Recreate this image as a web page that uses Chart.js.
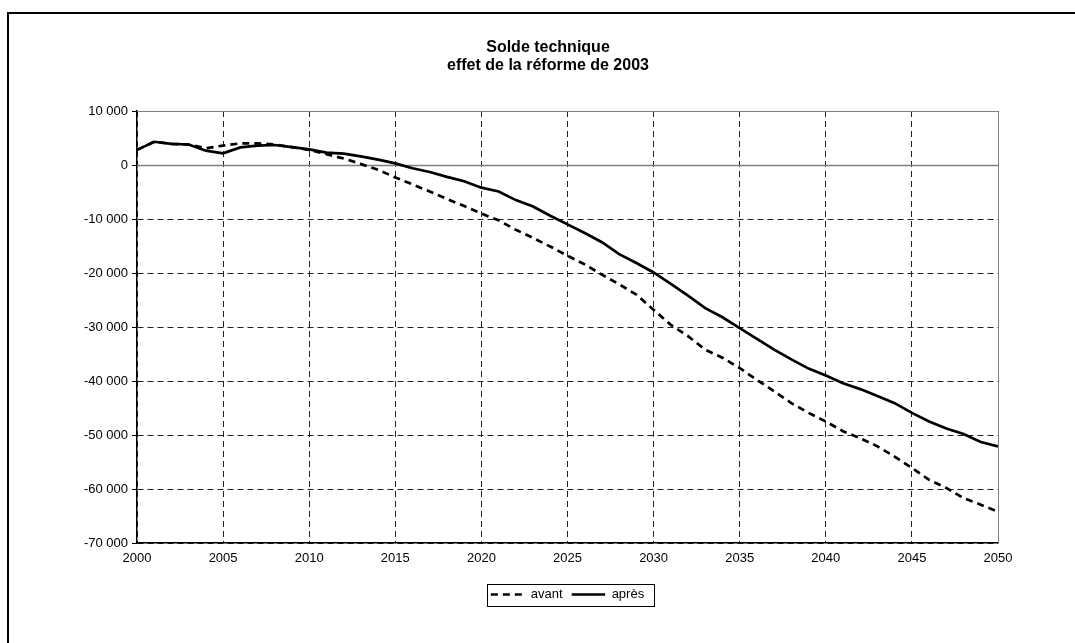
<!DOCTYPE html>
<html>
<head>
<meta charset="utf-8">
<script src="https://cdn.jsdelivr.net/npm/chart.js@4.4.0/dist/chart.umd.min.js"></script>
<style>
  html, body { margin: 0; padding: 0; background: #fff; overflow: hidden; }
  #wrap { position: relative; width: 1075px; height: 643px; }
  #frame { position: absolute; left: 7px; top: 12px; width: 1200px; height: 800px; border: 2px solid #000; }
  canvas { position: absolute; left: 0; top: 0; }
</style>
</head>
<body>
<div id="wrap">
  <div id="frame"></div>
  <canvas id="chart" width="1075" height="643"></canvas>
</div>
<script>
const years = [];
for (let y = 2000; y <= 2050; y++) years.push(y);

const avant = [
  2800, 4300, 3900, 3800, 3100, 3600, 4000, 4000, 3800, 3300,
  2800, 2000, 1200, 200, -900, -2300, -3600, -4900, -6300, -7600,
  -9000, -10250, -12000, -13500, -15100, -16800, -18400, -20300, -22100, -24000,
  -26800, -29600, -31700, -34200, -35700, -37600, -39800, -41900, -44100, -45900,
  -47500, -49300, -50600, -52100, -54000, -56100, -58300, -59800, -61700, -62900,
  -64200
];

const apres = [
  2800, 4300, 3900, 3800, 2650, 2150, 3250, 3600, 3700, 3300,
  2900, 2300, 2100, 1600, 1000, 300, -600, -1300, -2200, -3000,
  -4200, -4900, -6500, -7700, -9400, -11000, -12600, -14300, -16500, -18150,
  -19900, -22000, -24200, -26500, -28200, -30200, -32200, -34200, -36000, -37700,
  -39000, -40400, -41500, -42800, -44100, -45900, -47500, -48800, -49800, -51300,
  -52100
];

const titleLines = ["Solde technique", "effet de la réforme de 2003"];

const FONT = "'Liberation Sans', Arial, sans-serif";

const fmt = (v) => {
  const s = String(Math.abs(v)).replace(/\B(?=(\d{3})+(?!\d))/g, " ");
  return (v < 0 ? "-" : "") + s;
};

// title, zero line, plot border and legend frame
const extras = {
  id: "extras",
  beforeDatasetsDraw(chart) {
    const { ctx, chartArea: a, scales } = chart;
    ctx.save();
    ctx.strokeStyle = "#808080";
    ctx.lineWidth = 1;
    ctx.beginPath();
    ctx.moveTo(a.left, a.top + 0.5);
    ctx.lineTo(a.right + 0.5, a.top + 0.5);
    ctx.lineTo(a.right + 0.5, a.bottom);
    ctx.stroke();
    const y0 = Math.round(scales.y.getPixelForValue(0)) + 0.5;
    ctx.lineWidth = 1.5;
    ctx.beginPath();
    ctx.moveTo(a.left, y0);
    ctx.lineTo(a.right, y0);
    ctx.stroke();
    ctx.restore();
  },
  afterDraw(chart) {
    const ctx = chart.ctx;
    ctx.save();
    ctx.fillStyle = "#000";
    ctx.font = "bold 16px " + FONT;
    ctx.textAlign = "center";
    ctx.textBaseline = "middle";
    ctx.fillText(titleLines[0], 548, 48);
    ctx.fillText(titleLines[1], 548, 66);
    ctx.restore();

    const boxes = chart.legend.legendHitBoxes;
    if (!boxes || !boxes.length) return;
    let l = Infinity, r = -Infinity, cy = 0;
    boxes.forEach((b) => {
      l = Math.min(l, b.left);
      r = Math.max(r, b.left + b.width);
      cy = b.top + b.height / 2;
    });
    ctx.save();
    ctx.strokeStyle = "#000";
    ctx.lineWidth = 1;
    ctx.strokeRect(Math.round(l - 4) + 0.5, Math.round(cy - 11) + 0.5, Math.round(r - l + 14), 22);
    ctx.restore();
  }
};

new Chart(document.getElementById("chart"), {
  type: "line",
  data: {
    datasets: [
      {
        label: "avant",
        data: years.map((y, i) => ({ x: y, y: avant[i] })),
        borderColor: "#000",
        backgroundColor: "#000",
        borderWidth: 2.7,
        borderDash: [7, 5],
        pointRadius: 0,
        tension: 0
      },
      {
        label: "après",
        data: years.map((y, i) => ({ x: y, y: apres[i] })),
        borderColor: "#000",
        backgroundColor: "#000",
        borderWidth: 2.7,
        pointRadius: 0,
        tension: 0
      }
    ]
  },
  plugins: [extras],
  options: {
    responsive: false,
    animation: false,
    layout: { padding: { left: 0, right: 77, top: 111, bottom: 32 } },
    font: { family: FONT },
    plugins: {
      title: { display: false },
      legend: {
        position: "bottom",
        fullSize: false,
        labels: {
          color: "#000",
          font: { size: 13, family: FONT },
          boxWidth: 33.5,
          boxHeight: 0,
          padding: 9
        }
      },
      tooltip: { enabled: false }
    },
    scales: {
      x: {
        type: "linear",
        min: 2000,
        max: 2050,
        afterFit: (s) => { s.height = 36; },
        ticks: {
          stepSize: 5,
          padding: 8,
          color: "#000",
          font: { size: 13, family: FONT },
          callback: (v) => String(v),
          maxRotation: 0
        },
        grid: { color: "#222", drawTicks: false, lineWidth: 1 },
        border: { color: "#000", width: 1.5, dash: [6, 4] }
      },
      y: {
        min: -70000,
        max: 10000,
        afterFit: (s) => { s.width = 137; },
        ticks: {
          stepSize: 10000,
          padding: 4,
          color: "#000",
          font: { size: 13, family: FONT },
          callback: (v) => fmt(v)
        },
        grid: { color: "#222", lineWidth: 1, tickLength: 5, tickColor: "#000", tickBorderDash: [] },
        border: { color: "#000", width: 1.5, dash: [6, 4] }
      }
    }
  }
});
</script>
</body>
</html>
